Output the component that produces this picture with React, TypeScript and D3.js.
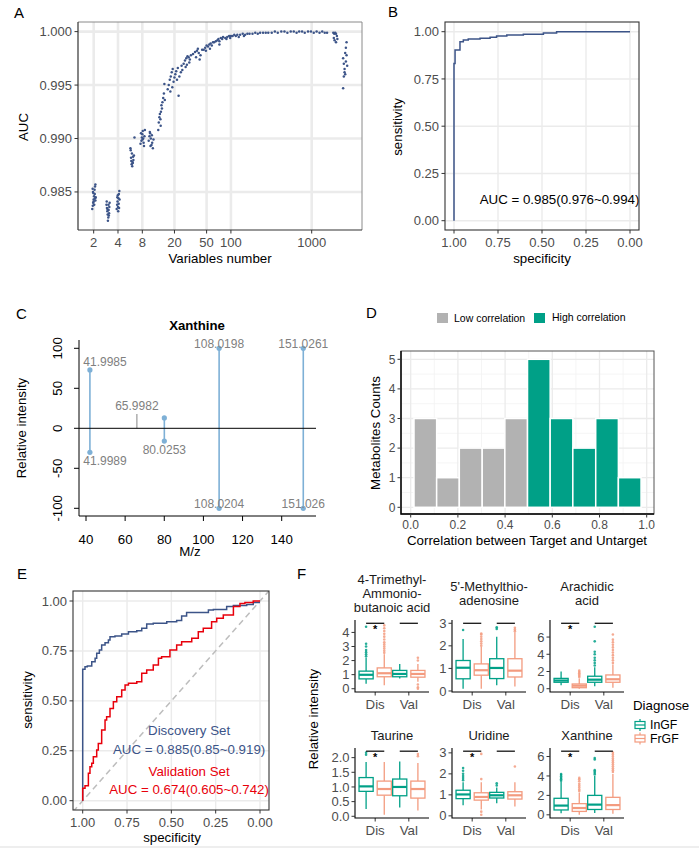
import React from "react";
import * as d3 from "d3";

const FONT = "'Liberation Sans', Arial, Helvetica, sans-serif";
const NAVY = "#3C5488";
const TEAL = "#00A087";
const SALMON = "#F39B7F";
const RED = "#E8000B";
const GRID = "#EBEBEB";
const TXT = "#4D4D4D";

// ---- A: AUC vs number of variables
const aucPoints: [number, number][] = [
  [1.92, 0.9834], [1.95, 0.9837], [1.97, 0.984], [2.0, 0.9843], [2.02, 0.9846], [1.98, 0.9849], [2.05, 0.9852], [2.08, 0.9855], [2.1, 0.9857], [1.94, 0.9853], [2.12, 0.9845], [2.0, 0.9841], [2.06, 0.9848], [1.96, 0.985], [2.1, 0.9842], [2.03, 0.9838], [2.08, 0.9844],
  [2.88, 0.9838], [2.92, 0.9835], [2.95, 0.9832], [2.98, 0.9829], [3.0, 0.9823], [3.03, 0.9826], [3.06, 0.9833], [3.1, 0.983], [3.12, 0.9836], [3.15, 0.984], [2.9, 0.9841], [3.05, 0.9838], [3.08, 0.9828], [2.96, 0.9834],
  [3.85, 0.9834], [3.9, 0.9838], [3.95, 0.9841], [4.0, 0.9836], [4.05, 0.9844], [4.1, 0.9848], [4.15, 0.9851], [3.92, 0.9845], [4.02, 0.9832], [4.08, 0.9839], [4.18, 0.9843], [3.98, 0.9847], [4.12, 0.9835],
  [5.7, 0.9891], [5.75, 0.9889], [5.8, 0.9882], [5.85, 0.9879], [5.9, 0.9876], [6.0, 0.9874], [6.1, 0.9877], [6.2, 0.988], [6.3, 0.9884], [6.4, 0.9901], [5.95, 0.9886], [6.15, 0.9883], [6.05, 0.9878],
  [7.6, 0.9895], [7.8, 0.9898], [7.9, 0.9901], [8.0, 0.9904], [8.1, 0.9907], [8.2, 0.99], [8.3, 0.9896], [8.5, 0.9902], [8.4, 0.9893], [7.7, 0.9905], [8.6, 0.9908], [8.05, 0.9899],
  [9.6, 0.9898], [9.8, 0.9902], [10.0, 0.9905], [10.2, 0.99], [10.4, 0.9894], [10.6, 0.9896], [10.8, 0.9891], [11.0, 0.9899], [10.1, 0.9893], [9.9, 0.9906], [10.5, 0.9903],
  [12.6, 0.9908], [12.8, 0.9915], [13.0, 0.992], [13.2, 0.9923], [13.4, 0.9918], [13.6, 0.9925], [13.8, 0.9931], [14.2, 0.9934], [14.5, 0.9938], [14.8, 0.9942], [15.0, 0.9951], [14.0, 0.9928], [13.5, 0.9912], [15.2, 0.9936],
  [16.5, 0.9946], [17, 0.995], [17.5, 0.9955], [18, 0.9958], [18.5, 0.9962], [19, 0.9965], [17.8, 0.9944], [18.8, 0.9948], [19.5, 0.9953], [20, 0.9957], [20.5, 0.996], [21, 0.9963], [22, 0.9966], [23, 0.9958], [24, 0.9962], [25, 0.9964], [22.5, 0.994], [21.5, 0.9955], [24.5, 0.9968],
  [26, 0.997], [27, 0.9973], [28, 0.9975], [29, 0.9977], [30, 0.9976], [31, 0.9974], [32, 0.9978], [28.5, 0.9969], [30.5, 0.9971], [27.5, 0.9967],
  [34, 0.9979], [36, 0.9981], [38, 0.9982], [40, 0.998], [42, 0.9978], [44, 0.9983], [37, 0.9976], [41, 0.9974], [39, 0.9984],
  [46, 0.9983], [48, 0.9985], [50, 0.9987], [52, 0.9986], [54, 0.9988], [56, 0.9989], [58, 0.9987], [60, 0.999], [49, 0.9982], [55, 0.9984],
  [62, 0.999], [65, 0.9991], [68, 0.9992], [70, 0.9993], [72, 0.9991], [75, 0.9994], [78, 0.9993], [80, 0.9995], [85, 0.9994], [90, 0.9995], [95, 0.9996], [100, 0.9996], [72, 0.9988], [88, 0.9993], [98, 0.9994],
  [105, 0.9996], [110, 0.9997], [115, 0.9996], [120, 0.9997], [130, 0.9997], [140, 0.9998], [150, 0.9997], [160, 0.9998], [170, 0.9998], [185, 0.9998], [200, 0.9999], [215, 0.9998], [230, 0.9999], [250, 0.9999], [270, 0.9999], [290, 0.9999], [125, 0.9995], [145, 0.9996],
  [320, 0.9999], [350, 1.0], [380, 0.9999], [420, 1.0], [460, 1.0], [500, 0.9999], [550, 1.0], [600, 1.0], [650, 0.9999], [700, 1.0], [760, 1.0], [820, 0.9999], [900, 1.0], [980, 1.0], [1060, 0.9999], [1150, 1.0], [1250, 0.9999], [1350, 1.0], [1450, 0.9999], [1550, 0.9999],
  [1850, 0.9999], [1900, 0.9998], [1950, 0.9999], [2000, 0.9998], [2050, 0.9996], [1880, 0.9994], [1920, 0.9992], [2000, 0.999], [2080, 0.9993],
  [2450, 0.9975], [2500, 0.997], [2550, 0.9965], [2600, 0.996], [2650, 0.9972], [2700, 0.9978], [2750, 0.9968], [2500, 0.9958], [2600, 0.998], [2700, 0.999], [2450, 0.9947], [2550, 0.9962], [2650, 0.9985],
];
const aTicksX = [2, 4, 8, 20, 50, 100, 1000];
const aTicksY = [0.985, 0.99, 0.995, 1.0];

// ---- B: ROC of full model
const bSpec = [1, 0.994, 0.966, 0.966, 0.947, 0.919, 0.852, 0.795, 0.758, 0.7, 0.606, 0.492, 0.417, 0];
const bSens = [0, 0.832, 0.903, 0.912, 0.947, 0.956, 0.961, 0.965, 0.97, 0.977, 0.982, 0.987, 0.993, 1];
const rocTicks = [0, 0.25, 0.5, 0.75, 1];

// ---- C: mirror spectrum
const topMz = [41.9985, 65.9982, 80.025, 108.0198, 151.0261];
const topInt = [73, 18, 13, 100, 100];
const topLab = ["41.9985", "65.9982", "", "108.0198", "151.0261"];
const topMatched = [true, false, true, true, true];
const botMz = [41.9989, 80.0253, 108.0204, 151.026];
const botInt = [-30, -16, -100, -100];
const botLab = ["41.9989", "80.0253", "108.0204", "151.026"];
const cTicksX = [40, 60, 80, 100, 120, 140];
const cTicksY = [-100, -50, 0, 50, 100];

// ---- D: correlation histogram
const dEdges = [0.014, 0.11, 0.206, 0.303, 0.399, 0.495, 0.591, 0.687, 0.784, 0.88, 0.976];
const dCounts = [3, 1, 2, 2, 3, 5, 3, 2, 3, 1];
const dGroup = ["Low", "Low", "Low", "Low", "Low", "High", "High", "High", "High", "High"];
const dTicksX = [0, 0.2, 0.4, 0.6, 0.8, 1.0];
const dTicksY = [0, 1, 2, 3, 4, 5];

// ---- E: discovery / validation ROC
const discSpec = [1, 1, 0.987, 0.974, 0.949, 0.93, 0.921, 0.906, 0.893, 0.874, 0.855, 0.846, 0.818, 0.78, 0.742, 0.695, 0.667, 0.639, 0.602, 0.526, 0.47, 0.442, 0.414, 0.338, 0.291, 0.263, 0.188, 0.15, 0.075, 0.038, 0];
const discSens = [0, 0.646, 0.658, 0.671, 0.674, 0.696, 0.713, 0.738, 0.755, 0.78, 0.791, 0.805, 0.821, 0.825, 0.835, 0.846, 0.851, 0.863, 0.885, 0.888, 0.896, 0.902, 0.925, 0.942, 0.943, 0.955, 0.958, 0.972, 0.978, 0.983, 0.992];
const valSpec = [1, 1, 0.987, 0.968, 0.968, 0.959, 0.949, 0.94, 0.921, 0.912, 0.893, 0.874, 0.865, 0.846, 0.827, 0.808, 0.78, 0.761, 0.742, 0.695, 0.667, 0.639, 0.602, 0.573, 0.555, 0.508, 0.47, 0.442, 0.385, 0.348, 0.32, 0.273, 0.244, 0.207, 0.15, 0.113, 0.085, 0.038, 0];
const valSens = [0, 0.053, 0.062, 0.075, 0.12, 0.137, 0.17, 0.187, 0.22, 0.254, 0.287, 0.354, 0.404, 0.42, 0.462, 0.496, 0.52, 0.554, 0.579, 0.588, 0.596, 0.638, 0.654, 0.679, 0.713, 0.721, 0.755, 0.78, 0.796, 0.813, 0.846, 0.863, 0.896, 0.913, 0.93, 0.972, 0.988, 0.992, 1];

// ---- F: box plots  [low whisker, q1, median, q3, high whisker]
const fTitles = [
  ["4-Trimethyl-", "Ammonio-", "butanoic acid"],
  ["5'-Methylthio-", "adenosine"],
  ["Arachidic", "acid"],
  ["Taurine"],
  ["Uridine"],
  ["Xanthine"],
];
const fCohorts = ["Dis", "Val"];
const fGroups = ["InGF", "FrGF"];
// order per metabolite: Dis-InGF, Dis-FrGF, Val-InGF, Val-FrGF
const fBoxes: number[][][] = [
  [[0.35, 0.7, 0.99, 1.25, 2.2], [0.25, 0.85, 1.1, 1.48, 2.45], [0.72, 0.85, 1.05, 1.3, 1.75], [0.5, 0.82, 1.05, 1.3, 1.75]],
  [[0.1, 0.54, 1.03, 1.35, 2.3], [0.1, 0.7, 0.92, 1.2, 1.95], [0.25, 0.55, 1.02, 1.43, 2.4], [0.2, 0.62, 0.9, 1.43, 2.6]],
  [[0.4, 0.75, 0.95, 1.2, 2.0], [0.0, 0.12, 0.35, 0.55, 1.2], [0.3, 0.75, 1.05, 1.45, 2.5], [0.1, 0.75, 1.1, 1.6, 2.8]],
  [[0.25, 0.85, 1.02, 1.32, 1.85], [0.05, 0.72, 0.93, 1.2, 1.85], [0.3, 0.7, 1.0, 1.27, 1.87], [0.2, 0.62, 0.93, 1.2, 1.82]],
  [[0.5, 0.82, 1.02, 1.22, 1.6], [0.3, 0.75, 0.9, 1.1, 1.6], [0.6, 0.85, 0.98, 1.12, 1.35], [0.45, 0.8, 0.98, 1.15, 1.6]],
  [[0.15, 0.5, 0.95, 1.7, 3.4], [0.0, 0.35, 0.7, 1.15, 2.3], [0.2, 0.55, 1.05, 2.0, 4.0], [0.1, 0.55, 1.0, 1.8, 4.2]],
];
const fOutliers: number[][][] = [
  [[2.3, 2.45, 2.6, 2.75, 3.0, 3.2, 4.4], [2.55, 2.7, 2.85, 3.0, 3.15, 3.3, 3.5, 3.7, 3.9, 4.1, 4.3, 4.5], [], [2.0, 2.2, 0.3, 0.1, 0.0]],
  [[2.7], [2.0, 2.1, 2.2, 2.3, 2.4, 2.5, 2.55], [2.75, 2.82], [2.65, 2.72, 2.8]],
  [[], [1.35, 1.5, 1.65, 1.8, 1.95, 2.1], [2.7, 3.0, 3.3, 3.6, 4.0, 4.3, 5.5, 7.2], [3.0, 3.3, 3.6, 3.9, 4.2, 4.5, 4.8, 5.1, 5.4, 5.7, 6.3]],
  [[2.1, 2.17], [], [], [2.05, 2.12]],
  [[1.7, 1.8, 1.9, 2.0, 2.15, 2.28], [1.75, 0.2, 0.05, 2.95], [1.45, 1.55], [2.35]],
  [[3.5, 3.65, 3.8, 3.95, 4.1, 4.2], [2.45, 2.6, 2.8, 3.0, 3.2, 3.45, 3.65, 3.8], [4.15, 4.3, 4.45, 4.6, 5.7, 5.85], [4.4, 4.6, 4.8, 5.0, 5.2, 5.4, 5.6, 5.8, 6.0, 6.2, 6.4]],
];
const fSigLevel = [4.65, 3.0, 7.6, 2.22, 3.08, 6.55];
const fStars = [[true, false], [false, false], [true, false], [true, false], [true, false], [true, false]];
const fTicks = [[0, 1, 2, 3, 4], [0, 1, 2, 3], [0, 2, 4, 6], [0, 0.5, 1, 1.5, 2], [0, 1, 2, 3], [0, 2, 4, 6]];

const Label = ({ x, y, t }: { x: number; y: number; t: string }) => (
  <text x={x} y={y} fontSize={15} fill="#000">{t}</text>
);

const VText = ({ x, y, t, size = 13.3, fill = "#000" }: any) => (
  <text transform={`translate(${x},${y}) rotate(-90)`} textAnchor="middle" dy="0.35em" fontSize={size} fill={fill}>{t}</text>
);

function PanelA() {
  const L = 78, R = 362, T = 22, B = 230;
  const x = d3.scaleLog().domain([1.279, 4195]).range([L, R]);
  const y = d3.scaleLinear().domain([0.98144, 1.0009]).range([B, T]);
  return (
    <g>
      <Label x={14} y={18} t="A" />
      {aTicksX.map((t) => <line key={"gx" + t} x1={x(t)} x2={x(t)} y1={T} y2={B} stroke={GRID} strokeWidth={2.6} />)}
      {aTicksY.map((t) => <line key={"gy" + t} x1={L} x2={R} y1={y(t)} y2={y(t)} stroke={GRID} strokeWidth={2.6} />)}
      {aucPoints.map(([n, v], i) => <circle key={i} cx={x(n)} cy={y(v)} r={1.25} fill={NAVY} />)}
      <line x1={L} x2={R} y1={T} y2={T} stroke="#8a8a8a" />
      <line x1={R} x2={R} y1={T} y2={B} stroke="#8a8a8a" />
      <line x1={L} x2={L} y1={T} y2={B} stroke="#333" strokeWidth={1.2} />
      <line x1={L} x2={R} y1={B} y2={B} stroke="#333" strokeWidth={1.2} />
      {aTicksX.map((t) => (
        <g key={"tx" + t}>
          <line x1={x(t)} x2={x(t)} y1={B} y2={B + 3.5} stroke="#333" />
          <text x={x(t)} y={B + 16.5} textAnchor="middle" fontSize={13} fill={TXT}>{t}</text>
        </g>
      ))}
      {aTicksY.map((t) => (
        <g key={"ty" + t}>
          <line x1={L - 3.5} x2={L} y1={y(t)} y2={y(t)} stroke="#333" />
          <text x={L - 6} y={y(t)} dy="0.35em" textAnchor="end" fontSize={13} fill={TXT}>{d3.format(".3f")(t)}</text>
        </g>
      ))}
      <text x={220} y={262.5} textAnchor="middle" fontSize={13.3}>Variables number</text>
      <VText x={23} y={127} t="AUC" />
    </g>
  );
}

function RocFrame({ L, R, T, B, x, y, children }: any) {
  return (
    <g>
      {rocTicks.map((t) => <line key={"gx" + t} x1={x(t)} x2={x(t)} y1={T} y2={B} stroke={GRID} strokeWidth={1.4} />)}
      {rocTicks.map((t) => <line key={"gy" + t} x1={L} x2={R} y1={y(t)} y2={y(t)} stroke={GRID} strokeWidth={1.4} />)}
      {children}
      <rect x={L} y={T} width={R - L} height={B - T} fill="none" stroke="#333" strokeWidth={1.1} />
      {rocTicks.map((t) => (
        <g key={"tx" + t}>
          <line x1={x(t)} x2={x(t)} y1={B} y2={B + 3.5} stroke="#333" />
          <text x={x(t)} y={B + 16.5} textAnchor="middle" fontSize={13} fill={TXT}>{d3.format(".2f")(t)}</text>
          <line x1={L - 3.5} x2={L} y1={y(t)} y2={y(t)} stroke="#333" />
          <text x={L - 6} y={y(t)} dy="0.35em" textAnchor="end" fontSize={13} fill={TXT}>{d3.format(".2f")(t)}</text>
        </g>
      ))}
    </g>
  );
}

function PanelB() {
  const L = 445, R = 639, T = 22, B = 230;
  const x = d3.scaleLinear().domain([1, 0]).range([454, 630]);
  const y = d3.scaleLinear().domain([0, 1]).range([220.7, 31.7]);
  const line = d3.line<number>().x((_, i) => x(bSpec[i])).y((s) => y(s)).curve(d3.curveStepBefore);
  return (
    <g>
      <Label x={388} y={17} t="B" />
      <RocFrame L={L} R={R} T={T} B={B} x={x} y={y}>
        <path d={line(bSens) || ""} fill="none" stroke={NAVY} strokeWidth={1.5} />
        <text x={x(0.4)} y={y(0.086)} textAnchor="middle" fontSize={13.3}>AUC = 0.985(0.976~0.994)</text>
      </RocFrame>
      <text x={542} y={262.5} textAnchor="middle" fontSize={13.3}>specificity</text>
      <VText x={397} y={127} t="sensitivity" />
    </g>
  );
}

function PanelC() {
  const L = 79, R = 316, T = 340, B = 516;
  const x = d3.scaleLinear().domain([40, 140]).range([86, 281.7]);
  const y = d3.scaleLinear().domain([-100, 100]).range([508.3, 348.3]);
  const stem = "#7EB0D6";
  const labX = (mz: number) => Math.max(x(mz), L + 26);
  return (
    <g>
      <Label x={16} y={319} t="C" />
      <text x={197} y={329.5} textAnchor="middle" fontSize={13.2} fontWeight="bold">Xanthine</text>
      {topMz.map((mz, i) => (
        <g key={"t" + i}>
          <line x1={x(mz)} x2={x(mz)} y1={y(0)} y2={y(topInt[i])} stroke={topMatched[i] ? stem : "#999"} strokeWidth={topMatched[i] ? 1.6 : 1.2} />
          {topMatched[i] && <circle cx={x(mz)} cy={y(topInt[i])} r={2.6} fill={stem} />}
          {topLab[i] && (
            <text x={labX(mz)} y={Math.max(y(topInt[i]) - 4, y(100))} textAnchor="middle" fontSize={12} fill="#808080">{topLab[i]}</text>
          )}
        </g>
      ))}
      {botMz.map((mz, i) => (
        <g key={"b" + i}>
          <line x1={x(mz)} x2={x(mz)} y1={y(0)} y2={y(botInt[i])} stroke={stem} strokeWidth={1.6} />
          <circle cx={x(mz)} cy={y(botInt[i])} r={2.6} fill={stem} />
          <text x={labX(mz)} y={Math.min(y(botInt[i]) + 13, y(-100))} textAnchor="middle" fontSize={12} fill="#808080">{botLab[i]}</text>
        </g>
      ))}
      <line x1={L} x2={R} y1={y(0)} y2={y(0)} stroke="#000" strokeWidth={1} />
      <path d={`M${L},${T}V${B}H${R}`} fill="none" stroke="#000" strokeWidth={1} />
      {cTicksX.map((t) => (
        <g key={"cx" + t}>
          <line x1={x(t)} x2={x(t)} y1={B} y2={B + 5} stroke="#000" />
          <text x={x(t)} y={B + 28} textAnchor="middle" fontSize={13.3}>{t}</text>
        </g>
      ))}
      {cTicksY.map((t) => (
        <g key={"cy" + t}>
          <line x1={L - 5} x2={L} y1={y(t)} y2={y(t)} stroke="#000" />
          <text transform={`translate(${L - 22},${y(t)}) rotate(-90)`} textAnchor="middle" dy="0.35em" fontSize={13.3}>{t}</text>
        </g>
      ))}
      <text x={190} y={556} textAnchor="middle" fontSize={13.3}>M/z</text>
      <VText x={21} y={428} t="Relative intensity" />
    </g>
  );
}

function PanelD() {
  const L = 401, R = 654, T = 351, B = 514;
  const x = d3.scaleLinear().domain([0, 1]).range([410.7, 646.7]);
  const y = d3.scaleLinear().domain([0, 5]).range([507.3, 359.3]);
  const col = (g: string) => (g === "Low" ? "#B2B2B2" : TEAL);
  const minorX = [0.1, 0.3, 0.5, 0.7, 0.9];
  const minorY = [0.5, 1.5, 2.5, 3.5, 4.5];
  return (
    <g>
      <Label x={366} y={318} t="D" />
      <rect x={437} y={313} width={11} height={10} fill={col("Low")} />
      <text x={454} y={322} fontSize={10.5}>Low correlation</text>
      <rect x={534} y={313} width={11} height={10} fill={col("High")} />
      <text x={552} y={321} fontSize={10.5}>High correlation</text>
      {minorX.map((t) => <line key={"mx" + t} x1={x(t)} x2={x(t)} y1={T} y2={B} stroke="#F3F3F3" strokeWidth={0.8} />)}
      {minorY.map((t) => <line key={"my" + t} x1={L} x2={R} y1={y(t)} y2={y(t)} stroke="#F3F3F3" strokeWidth={0.8} />)}
      {dTicksX.map((t) => <line key={"gx" + t} x1={x(t)} x2={x(t)} y1={T} y2={B} stroke={GRID} strokeWidth={1.3} />)}
      {dTicksY.map((t) => <line key={"gy" + t} x1={L} x2={R} y1={y(t)} y2={y(t)} stroke={GRID} strokeWidth={1.3} />)}
      {dCounts.map((c, i) => (
        <rect key={i} x={x(dEdges[i])} y={y(c)} width={x(dEdges[i + 1]) - x(dEdges[i])} height={y(0) - y(c)}
          fill={col(dGroup[i])} stroke="#fff" strokeWidth={1.5} />
      ))}
      <rect x={L} y={T} width={R - L} height={B - T} fill="none" stroke="#555" strokeWidth={1} />
      <path d={`M${L},${T}V${B}H${R}`} fill="none" stroke="#000" strokeWidth={1.4} />
      {dTicksX.map((t) => (
        <g key={"tx" + t}>
          <line x1={x(t)} x2={x(t)} y1={B} y2={B + 3.5} stroke="#333" />
          <text x={x(t)} y={B + 15} textAnchor="middle" fontSize={12} fill={TXT}>{d3.format(".1f")(t)}</text>
        </g>
      ))}
      {dTicksY.map((t) => (
        <g key={"ty" + t}>
          <line x1={L - 3.5} x2={L} y1={y(t)} y2={y(t)} stroke="#333" />
          <text x={L - 5.5} y={y(t)} dy="0.35em" textAnchor="end" fontSize={12} fill={TXT}>{t}</text>
        </g>
      ))}
      <text x={527} y={544.5} textAnchor="middle" fontSize={13.3}>Correlation between Target and Untarget</text>
      <VText x={375} y={433} t="Metabolites Counts" />
    </g>
  );
}

function PanelE() {
  const L = 73, R = 269, T = 591, B = 810;
  const x = d3.scaleLinear().domain([1, 0]).range([82.7, 260]);
  const y = d3.scaleLinear().domain([0, 1]).range([800.7, 601]);
  const disc = d3.line<number>().x((_, i) => x(discSpec[i])).y((s) => y(s)).curve(d3.curveStepBefore);
  const val = d3.line<number>().x((_, i) => x(valSpec[i])).y((s) => y(s)).curve(d3.curveStepBefore);
  const sMin = x.invert(L), sMax = x.invert(R);
  return (
    <g>
      <Label x={17} y={579} t="E" />
      <defs>
        <clipPath id="clipE"><rect x={L} y={T} width={R - L} height={B - T} /></clipPath>
      </defs>
      <RocFrame L={L} R={R} T={T} B={B} x={x} y={y}>
        <line clipPath="url(#clipE)" x1={x(sMin)} y1={y(1 - sMin)} x2={x(sMax)} y2={y(1 - sMax)} stroke="#BDBDBD" strokeWidth={1.5} strokeDasharray="6,4" />
        <path d={disc(discSens) || ""} fill="none" stroke={NAVY} strokeWidth={1.5} />
        <path d={val(valSens) || ""} fill="none" stroke={RED} strokeWidth={1.5} />
        <text x={x(0.4)} y={y(0.33)} textAnchor="middle" fontSize={13.3} fill={NAVY}>Discovery Set</text>
        <text x={x(0.4)} y={y(0.236)} textAnchor="middle" fontSize={13.3} fill={NAVY}>AUC = 0.885(0.85~0.919)</text>
        <text x={x(0.4)} y={y(0.126)} textAnchor="middle" fontSize={13.3} fill={RED}>Validation Set</text>
        <text x={x(0.4)} y={y(0.036)} textAnchor="middle" fontSize={13.3} fill={RED}>AUC = 0.674(0.605~0.742)</text>
      </RocFrame>
      <text x={172} y={842} textAnchor="middle" fontSize={13.3}>specificity</text>
      <VText x={27} y={700} t="sensitivity" />
    </g>
  );
}

function Facet({ k, x0, top, bottom }: { k: number; x0: number; top: number; bottom: number }) {
  const w = 74;
  const boxes = fBoxes[k], outs = fOutliers[k];
  const all = [...boxes.flat(), ...outs.flat(), fSigLevel[k]];
  const lo = d3.min(all) as number, hi = d3.max(all) as number;
  const pad = (hi - lo) * 0.05;
  const y = d3.scaleLinear().domain([lo - pad, hi + pad]).range([bottom, top]);
  const xp = d3.scalePoint<string>().domain(fCohorts).range([x0, x0 + w]).padding(0.6);
  const step = xp.step();
  const off = step * 0.27, bw = step * 0.42;
  const cols = [TEAL, SALMON];
  const lines = fTitles[k];
  const midY = k < 3 ? 593 : 735;
  const fmt = k === 3 ? d3.format(".1f") : d3.format("d");
  return (
    <g>
      <text textAnchor="middle" fontSize={13} fill="#1a1a1a">
        {lines.map((t, i) => (
          <tspan key={i} x={x0 + w / 2} y={midY + (i - (lines.length - 1) / 2) * 14 + 4.5}>{t}</tspan>
        ))}
      </text>
      {boxes.map((s, j) => {
        const cx = (xp(fCohorts[Math.floor(j / 2)]) as number) + (j % 2 === 0 ? -off : off);
        const c = cols[j % 2];
        return (
          <g key={j}>
            <line x1={cx} x2={cx} y1={y(s[0])} y2={y(s[1])} stroke={c} strokeWidth={1.3} />
            <line x1={cx} x2={cx} y1={y(s[3])} y2={y(s[4])} stroke={c} strokeWidth={1.3} />
            <rect x={cx - bw / 2} y={y(s[3])} width={bw} height={Math.max(y(s[1]) - y(s[3]), 0.5)} fill="#fff" stroke={c} strokeWidth={1.3} />
            <line x1={cx - bw / 2} x2={cx + bw / 2} y1={y(s[2])} y2={y(s[2])} stroke={c} strokeWidth={2.2} />
            {outs[j].map((o, q) => <circle key={q} cx={cx} cy={y(o)} r={1.3} fill={c} opacity={0.85} />)}
          </g>
        );
      })}
      {fCohorts.map((coh, g) => {
        const cx = xp(coh) as number;
        const ly = y(fSigLevel[k]);
        return (
          <g key={coh}>
            <line x1={cx - off} x2={cx + off} y1={ly} y2={ly} stroke="#000" strokeWidth={1.2} />
            {fStars[k][g] && <text x={cx} y={ly + 10} textAnchor="middle" fontSize={11} fontWeight="bold">*</text>}
            <line x1={cx} x2={cx} y1={bottom} y2={bottom + 3.5} stroke="#333" />
            <text x={cx} y={bottom + 17} textAnchor="middle" fontSize={13.3} fill={TXT}>{coh}</text>
          </g>
        );
      })}
      <path d={`M${x0},${top}V${bottom}H${x0 + w}`} fill="none" stroke="#000" strokeWidth={1.1} />
      {fTicks[k].map((t) => (
        <g key={t}>
          <line x1={x0 - 3.5} x2={x0} y1={y(t)} y2={y(t)} stroke="#333" />
          <text x={x0 - 5.5} y={y(t)} dy="0.35em" textAnchor="end" fontSize={13} fill={TXT}>{fmt(t)}</text>
        </g>
      ))}
    </g>
  );
}

function PanelF() {
  const cols = [355, 452, 550];
  const rows = [[620, 692], [748, 818]];
  return (
    <g>
      <Label x={297} y={579} t="F" />
      {fTitles.map((_, k) => (
        <Facet key={k} k={k} x0={cols[k % 3]} top={rows[Math.floor(k / 3)][0]} bottom={rows[Math.floor(k / 3)][1]} />
      ))}
      <VText x={313} y={719} t="Relative intensity" />
      <text x={633} y={710} fontSize={13.3}>Diagnose</text>
      {fGroups.map((g, i) => {
        const cy = 725 + i * 13.5;
        const c = [TEAL, SALMON][i];
        return (
          <g key={g}>
            <line x1={640} x2={640} y1={cy - 6} y2={cy + 6} stroke={c} strokeWidth={1.2} />
            <rect x={635} y={cy - 3.5} width={10} height={7} fill="#fff" stroke={c} strokeWidth={1.2} />
            <line x1={635} x2={645} y1={cy} y2={cy} stroke={c} strokeWidth={1.2} />
            <text x={650} y={cy + 4} fontSize={12.3}>{g}</text>
          </g>
        );
      })}
    </g>
  );
}

export default function App() {
  return (
    <svg width={699} height={850} style={{ position: "absolute", left: 0, top: 0, background: "#fff" }} fontFamily={FONT}>
      <rect width={699} height={850} fill="#fff" />
      <PanelA />
      <PanelB />
      <PanelC />
      <PanelD />
      <PanelE />
      <PanelF />
      <line x1={0} x2={699} y1={847} y2={847} stroke="#DDDDDD" strokeWidth={1} />
    </svg>
  );
}
